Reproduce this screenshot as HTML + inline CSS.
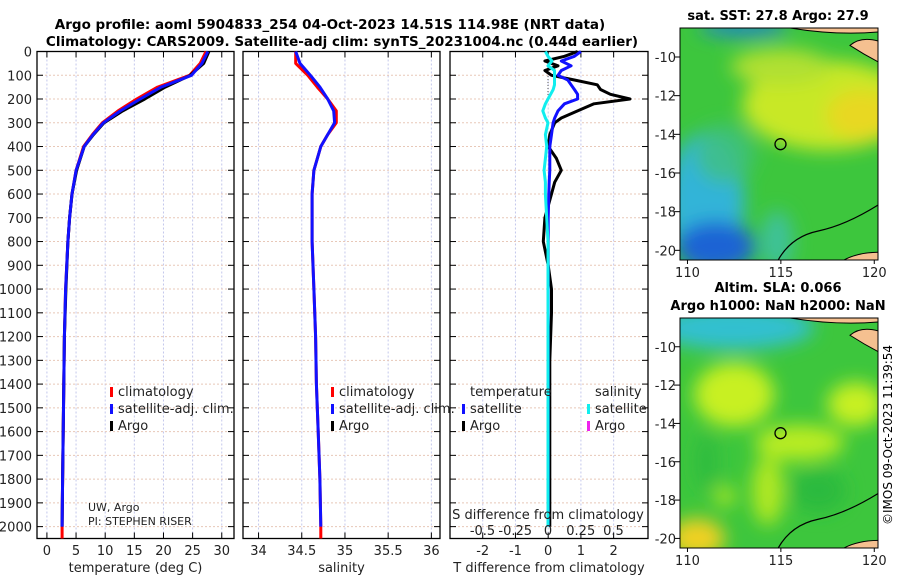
<!DOCTYPE html>
<html><head><meta charset="utf-8"><style>
body{margin:0;background:#fff}
svg{display:block;font-family:"DejaVu Sans","Liberation Sans",sans-serif}
</style></head><body>
<svg id="c" width="900" height="580" xmlns="http://www.w3.org/2000/svg">
<defs>
<filter id="bl" x="-50%" y="-50%" width="200%" height="200%"><feGaussianBlur stdDeviation="9"/></filter>
<clipPath id="m1"><rect x="680" y="28" width="198" height="232"/></clipPath>
<clipPath id="m2"><rect x="680" y="318" width="198" height="230"/></clipPath>
</defs>
<text x="330" y="29" font-size="13.5" font-weight="bold" text-anchor="middle">Argo profile: aoml 5904833_254 04-Oct-2023 14.51S 114.98E (NRT data)</text>
<text x="342" y="46" font-size="13.5" font-weight="bold" text-anchor="middle">Climatology: CARS2009. Satellite-adj clim: synTS_20231004.nc (0.44d earlier)</text>
<g id="plots"></g>
<g id="maps"></g>
<text transform="translate(892,435) rotate(-90)" font-size="12" text-anchor="middle">©IMOS 09-Oct-2023 11:39:54</text>
</svg>
<script>
// depth grid (m)
const depths=[0,50,100,150,200,250,300,350,400,500,600,700,800,1000,1200,1400,1600,1800,2000];
const tempClim=[27.3,26.3,24.5,19.0,15.4,12.2,9.5,7.8,6.3,5.0,4.3,3.9,3.6,3.2,3.0,2.9,2.8,2.7,2.6];
const tempSat=[27.6,26.6,24.8,19.6,16.0,12.6,9.7,7.9,6.4,5.0,4.3,3.9,3.6,3.2,3.0,2.9,2.8,2.7,2.6];
const tempArgo=[27.8,26.9,24.6,20.3,16.8,13.0,9.8,8.0,6.4,5.1,4.3,3.9,3.6,3.25,3.0,2.9,2.8,2.7,2.6];
const salClim=[34.43,34.43,34.57,34.68,34.8,34.9,34.9,34.8,34.72,34.64,34.62,34.62,34.62,34.64,34.66,34.67,34.69,34.71,34.72];
const salSat=[34.43,34.48,34.6,34.71,34.8,34.87,34.88,34.8,34.72,34.64,34.62,34.62,34.62,34.64,34.66,34.67,34.69,34.71,34.72];
const dDepths=[0,20,40,60,80,100,120,140,160,180,200,220,250,280,300,350,400,450,500,550,600,700,800,900,1000,1100,1300,1500,1700,2000];
const tDiffArgo=[0.9,0.5,-0.1,0.3,-0.1,0.1,0.8,1.5,1.6,1.9,2.5,1.4,0.9,0.4,0.2,0.05,0.0,0.25,0.4,0.2,0.1,-0.1,-0.15,0.0,0.1,0.1,0.05,0.05,0.05,0.05];
const tDiffSat=[1.0,0.8,0.4,0.7,0.4,0.3,0.6,0.7,0.8,0.9,0.9,0.5,0.3,0.2,0.15,0.1,0.05,0.05,0.05,0.03,0.02,0.0,0.0,0.0,0.0,0.0,0.0,0.0,0.0,0.0];
const sDiffSat=[-0.02,0.0,0.03,0.0,0.05,0.05,0.05,0.05,0.04,0.02,0.0,-0.02,-0.04,-0.02,0.0,-0.02,-0.01,-0.02,-0.03,-0.02,-0.02,-0.01,0.0,0.0,0.0,0.0,0.0,0.0,0.0,0.0];
const depthTicks=[0,100,200,300,400,500,600,700,800,900,1000,1100,1200,1300,1400,1500,1600,1700,1800,1900,2000];

const NS="http://www.w3.org/2000/svg";
const plots=document.getElementById('plots');
function mk(tag,at,parent){const e=document.createElementNS(NS,tag);for(const k in at)e.setAttribute(k,at[k]);(parent||plots).appendChild(e);return e;}
const Y0=51.5,Y1=538.5;
const yS=d=>Y0+(d-0)*(Y1-Y0)/2050;

function panel(x0,x1,xmin,xmax,ticks,labels,title,name){
  const xS=v=>x0+(v-xmin)*(x1-x0)/(xmax-xmin);
  const g=mk('g',{});
  
  
  ticks.forEach((t,i)=>{
    const l=mk('line',{x1:xS(t),x2:xS(t),y1:Y0,y2:Y1,stroke:'#c4c8ec','stroke-dasharray':'2,2','stroke-width':1},g);
    
    
    mk('line',{x1:xS(t),x2:xS(t),y1:Y1,y2:Y1-6,stroke:'#000'},g);
    mk('line',{x1:xS(t),x2:xS(t),y1:Y0,y2:Y0+6,stroke:'#000'},g);
    const tx=mk('text',{x:xS(t),y:555,'font-size':13,'text-anchor':'middle',fill:'#222'},g);
    tx.textContent=labels[i];
    
    
  });
  depthTicks.forEach(d=>{
    const l=mk('line',{x1:x0,x2:x1,y1:yS(d),y2:yS(d),stroke:'#e8c8b8','stroke-dasharray':'2,2','stroke-width':1},g);
    
    
    mk('line',{x1:x0,x2:x0+6,y1:yS(d),y2:yS(d),stroke:'#000'},g);
    mk('line',{x1:x1,x2:x1-6,y1:yS(d),y2:yS(d),stroke:'#000'},g);
  });
  const f=mk('rect',{x:x0,y:Y0,width:x1-x0,height:Y1-Y0,fill:'none',stroke:'#000','stroke-width':1.3},g);
  
  
  const tt=mk('text',{x:(x0+x1)/2,y:572,'font-size':13,'text-anchor':'middle',fill:'#222'},g);
  tt.textContent=title;
  
  
  return xS;
}
function line(xS,dep,vals,color,name,w){
  const pts=dep.map((d,i)=>xS(vals[i]).toFixed(1)+','+yS(d).toFixed(1)).join(' ');
  const p=mk('polyline',{points:pts,fill:'none',stroke:color,'stroke-width':w||3,'stroke-linejoin':'round'});
  
  
}
// panel 1
const xT=panel(37,234,-1.7,32.1,[0,5,10,15,20,25,30],['0','5','10','15','20','25','30'],'temperature (deg C)','temperature-panel');
depthTicks.forEach(d=>{const t=mk('text',{x:32,y:yS(d)+5,'font-size':13,'text-anchor':'end',fill:'#222'});t.textContent=d;

});
line(xT,depths.concat([2050]),tempClim.concat([2.6]),'#f00','temp-climatology-line');
line(xT,depths,tempArgo,'#000','temp-argo-line');
line(xT,depths,tempSat,'#11f','temp-satellite-line');
// panel 2
const xSal=panel(243,440,33.82,36.1,[34,34.5,35,35.5,36],['34','34.5','35','35.5','36'],'salinity','salinity-panel');
line(xSal,depths.concat([2050]),salClim.concat([34.72]),'#f00','sal-climatology-line');
line(xSal,depths,salSat,'#11f','sal-satellite-line');
// panel 3
const xD=panel(450,648,-3.0,3.05,[-2,-1,0,1,2],['-2','-1','0','1','2'],'T difference from climatology','difference-panel');
const xSD=v=>548+v*131;
mk('line',{x1:548,x2:548,y1:yS(40),y2:yS(210),stroke:'#555','stroke-dasharray':'1,2'});
line(xD,dDepths,tDiffArgo,'#000','tdiff-argo-line');
line(xD,dDepths,tDiffSat,'#11f','tdiff-satellite-line');
line(xSD,dDepths,sDiffSat,'#1ee','sdiff-satellite-line');
const st=mk('text',{x:548,y:519,'font-size':13,'text-anchor':'middle',fill:'#222'});st.textContent='S difference from climatology';


[[-0.5,'-0.5'],[-0.25,'-0.25'],[0,'0'],[0.25,'0.25'],[0.5,'0.5']].forEach(([v,l])=>{const t=mk('text',{x:xSD(v),y:535,'font-size':13,'text-anchor':'middle',fill:'#222'});t.textContent=l;

});

// legends
function leg(x,y,color,label,name){
  mk('rect',{x:x,y:y-9,width:3,height:10,fill:color});
  const t=mk('text',{x:x+8,y:y,'font-size':13,fill:'#222'});t.textContent=label;
  
  
}
leg(110,396,'#f00','climatology','legend-climatology');
leg(110,413,'#11f','satellite-adj. clim.','legend-satellite');
leg(110,430,'#000','Argo','legend-argo');
leg(331,396,'#f00','climatology','legend2-climatology');
leg(331,413,'#11f','satellite-adj. clim.','legend2-satellite');
leg(331,430,'#000','Argo','legend2-argo');
{const t=mk('text',{x:470,y:396,'font-size':13,fill:'#222'});t.textContent='temperature';

}
{const t=mk('text',{x:595,y:396,'font-size':13,fill:'#222'});t.textContent='salinity';

}
leg(462,413,'#11f','satellite','legend-t-satellite');
leg(462,430,'#000','Argo','legend-t-argo');
leg(587,413,'#1ee','satellite','legend-s-satellite');
leg(587,430,'#e2e','Argo','legend-s-argo');
{const t=mk('text',{x:88,y:511,'font-size':11,fill:'#222'});t.textContent='UW, Argo';

}
{const t=mk('text',{x:88,y:525,'font-size':11,fill:'#222'});t.textContent='PI: STEPHEN RISER';

}

// maps
const maps=document.getElementById('maps');
function mapPanel(top,bottom,latTop,latBot,clip,blobs,title1,title2,name){
  const g=mk('g',{},maps);
  
  
  const lonX=l=>680+(l-109.6)*(198/10.6);
  const latY=l=>top+(latTop-l)*(bottom-top)/(latTop-latBot);
  const cg=mk('g',{'clip-path':'url(#'+clip+')'},g);
  mk('rect',{x:680,y:top,width:198,height:bottom-top,fill:'#3dc63d'},cg);
  const bg=mk('g',{filter:'url(#bl)'},cg);
  blobs.forEach(b=>mk('ellipse',{cx:lonX(b[0]),cy:latY(b[1]),rx:b[2],ry:b[3],fill:b[4],opacity:b[5]||1},bg));
  // coastline
  mk('path',{d:`M${lonX(114.8)},${latY(-20.6)} Q${lonX(115.5)},${latY(-19.3)} ${lonX(117)},${latY(-19)} T${lonX(120.3)},${latY(-17.6)}`,fill:'none',stroke:'#000','stroke-width':1.2},cg);
  mk('path',{d:`M${lonX(118.2)},${latY(-20.6)} Q${lonX(119)},${latY(-20.1)} ${lonX(120.3)},${latY(-20.1)} L${lonX(120.3)},${latY(-20.6)}Z`,fill:'#f5c090',stroke:'#000'},cg);
  mk('path',{d:`M${lonX(118.7)},${latY(-9.4)} Q${lonX(119.3)},${latY(-8.9)} ${lonX(120.3)},${latY(-9.2)} L${lonX(120.3)},${latY(-10.3)} Q${lonX(119.5)},${latY(-9.9)} ${lonX(118.7)},${latY(-9.4)}Z`,fill:'#f5c090',stroke:'#000'},cg);
  mk('path',{d:`M${lonX(115.5)},${latY(-8.3)} L${lonX(120.3)},${latY(-8.3)} L${lonX(120.3)},${latY(-8.7)} Q${lonX(118)},${latY(-8.9)} ${lonX(115.5)},${latY(-8.5)}Z`,fill:'#f5c090',stroke:'#000'},cg);
  mk('rect',{x:680,y:top,width:198,height:bottom-top,fill:'none',stroke:'#000','stroke-width':1},g);
  const c=mk('circle',{cx:lonX(114.98),cy:latY(-14.51),r:5.5,fill:'none',stroke:'#000','stroke-width':1.3},g);
  
  
  [-10,-12,-14,-16,-18,-20].forEach(l=>{
    mk('line',{x1:674,x2:680,y1:latY(l),y2:latY(l),stroke:'#000'},g);
    const t=mk('text',{x:676,y:latY(l)+5,'font-size':13,'text-anchor':'end',fill:'#222'},g);t.textContent=l;
    
    
  });
  [110,115,120].forEach(l=>{
    mk('line',{x1:lonX(l),x2:lonX(l),y1:bottom,y2:bottom+4,stroke:'#000'},g);
    const t=mk('text',{x:lonX(l),y:bottom+17,'font-size':13,'text-anchor':'middle',fill:'#222'},g);t.textContent=l;
    
    
  });
  const t1=mk('text',{x:778,y:title2?top-26:top-8,'font-size':13,'font-weight':'bold','text-anchor':'middle'},g);t1.textContent=title1;
  
  
  if(title2){const t2=mk('text',{x:778,y:top-8,'font-size':13,'font-weight':'bold','text-anchor':'middle'},g);t2.textContent=title2;
  
  }
}
mapPanel(28,260,-8.5,-20.5,'m1',[
 [117.5,-12.5,85,45,'#c8e828'],[119.3,-13,35,25,'#e8d820'],[115,-10.5,50,18,'#b0e030'],
 [111,-17.5,38,70,'#30b4d8'],[111.5,-19.8,40,25,'#1a64d4'],[114.8,-19.5,16,30,'#40c0b0',0.8],
 [113,-8.5,45,8,'#2080d0'],[112,-15,30,30,'#40c080',0.8]
],'sat. SST: 27.8 Argo: 27.9',null,'sst-map');
mapPanel(318,548,-8.5,-20.5,'m2',[
 [112.5,-9,80,22,'#30c0d0'],[112.5,-12.5,40,32,'#c8f020'],[119,-13,28,22,'#c8f020'],
 [116,-15,45,18,'#b8ec20'],[114.3,-17.5,16,35,'#b0e820'],[110.5,-20,28,20,'#f0d020'],
 [117,-17.5,28,22,'#28b840',0.8],[111,-16,12,30,'#28b840',0.7],[112,-17.8,10,10,'#b0e820']
],'Altim. SLA: 0.066','Argo h1000: NaN h2000: NaN','sla-map');
</script>
</body></html>
